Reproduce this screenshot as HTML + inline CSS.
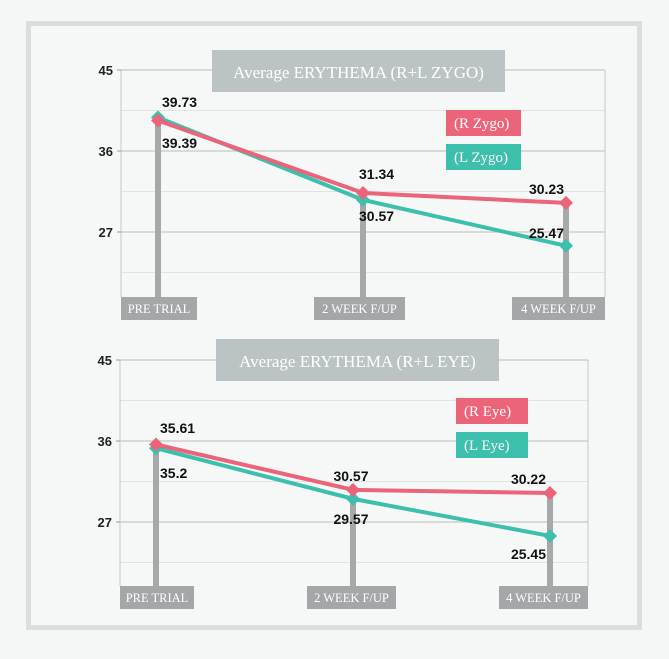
<!DOCTYPE html>
<html><head><meta charset="utf-8"><style>
html,body{margin:0;padding:0;background:#f5f7f6;}
body{width:669px;height:659px;position:relative;overflow:hidden;font-family:"Liberation Sans",sans-serif;}
#frame{position:absolute;left:26px;top:21px;width:606px;height:599px;border:5px solid #dcdede;background:#f6f8f7;}
svg{position:absolute;left:0;top:0;}
</style></head><body>
<div id="frame"></div>
<svg id="s" width="669" height="659"></svg>
<script>
const categories=["PRE TRIAL","2 WEEK F/UP","4 WEEK F/UP"];
const yTicks=[45,36,27];
const zygoR=[39.39,31.34,30.23];
const zygoL=[39.73,30.57,25.47];
const eyeR=[35.61,30.57,30.22];
const eyeL=[35.2,29.57,25.45];
const zygoRLabels=["39.39","31.34","30.23"];
const zygoLLabels=["39.73","30.57","25.47"];
const eyeRLabels=["35.61","30.57","30.22"];
const eyeLLabels=["35.2","29.57","25.45"];
const NS="http://www.w3.org/2000/svg";
const svg=document.getElementById('s');
function mk(t,a,p){const e=document.createElementNS(NS,t);for(const k in a)e.setAttribute(k,a[k]);(p||svg).appendChild(e);return e;}
const PINK="#ec6479",TEAL="#3dbfad";
function chart(cfg){
  const g=mk('g',{});
  
  
  const y=v=>cfg.top+(45-v)*(cfg.y36-cfg.top)/9;
  const x=i=>cfg.px[i];
  [45,40.5,36,31.5,27,22.5].forEach(v=>{
    const major=yTicks.includes(v);
    const l=mk('line',{x1:cfg.left,x2:cfg.right,y1:y(v),y2:y(v),stroke:major?'#c4c7c7':'#e2e4e4','stroke-width':major?1.2:1},g);
    
    
  });
  mk('line',{x1:cfg.left,x2:cfg.left,y1:cfg.top,y2:cfg.bottom,stroke:'#c4c7c7'},g);
  mk('line',{x1:cfg.right,x2:cfg.right,y1:cfg.top,y2:cfg.bottom,stroke:'#c4c7c7'},g);
  yTicks.forEach(v=>{
    mk('line',{x1:cfg.left-4,x2:cfg.left,y1:y(v),y2:y(v),stroke:'#999'},g);
    const t=mk('text',{x:cfg.left-8,y:y(v)+5,'text-anchor':'end','font-size':13,'font-weight':'bold',fill:'#222'},g);
    t.textContent=v;
    
    
  });
  categories.forEach((c,i)=>{
    const top=Math.min(y(cfg.r[i]),y(cfg.l[i]));
    const st=mk('rect',{x:x(i)-3,y:top,width:6,height:cfg.bottom-top,fill:'#a7a8aa'},g);
    
    
  });
  const tb=mk('rect',{x:cfg.tx,y:cfg.ty,width:cfg.tw,height:42,fill:'#bcc3c4'},g);
  
  
  const tt=mk('text',{x:cfg.tx+cfg.tw/2,y:cfg.ty+28,'text-anchor':'middle','font-size':17,fill:'#fff','font-family':'Liberation Serif, serif'},g);
  tt.textContent=cfg.title;
  
  
  [[cfg.l,TEAL,'series-left'],[cfg.r,PINK,'series-right']].forEach(([d,col,n])=>{
    const pl=mk('polyline',{points:d.map((v,i)=>x(i)+','+y(v)).join(' '),fill:'none',stroke:col,'stroke-width':4},g);
    
    
    d.forEach((v,i)=>{
      const p=mk('polygon',{points:`${x(i)},${y(v)-7} ${x(i)+7},${y(v)} ${x(i)},${y(v)+7} ${x(i)-7},${y(v)}`,fill:col},g);
      
      
    });
  });
  cfg.labels.forEach(([arr,i,dx,dy,anchor])=>{
    const t=mk('text',{x:x(i)+dx,y:dy,'text-anchor':anchor||'start','font-size':14,'font-weight':'bold',fill:'#111'},g);
    t.textContent=arr[i];
    
    
  });
  categories.forEach((c,i)=>{
    const b=cfg.xb[i];
    const r=mk('rect',{x:b[0],y:cfg.bottom,width:b[1]-b[0],height:23,fill:'#a5a6a8'},g);
    
    
    const t=mk('text',{x:(b[0]+b[1])/2,y:cfg.bottom+16,'text-anchor':'middle','font-size':12.5,fill:'#fff','font-family':'Liberation Serif, serif'},g);
    t.textContent=c;
    
    
  });
  [[cfg.legR,PINK,cfg.ly],[cfg.legL,TEAL,cfg.ly+34]].forEach(([txt,col,ly])=>{
    const r=mk('rect',{x:cfg.lx,y:ly,width:cfg.lw,height:26,fill:col},g);
    
    
    const t=mk('text',{x:cfg.lx+8,y:ly+18,'font-size':15,fill:'#fff','font-family':'Liberation Serif, serif'},g);
    t.textContent=txt;
    
    
  });
}
chart({name:'zygo-chart',top:70,y36:151,bottom:297,left:121,right:605,px:[158,363,566],
  r:zygoR,l:zygoL,title:'Average ERYTHEMA (R+L ZYGO)',tx:212,ty:50,tw:293,
  legR:'(R Zygo)',legL:'(L Zygo)',lx:446,lw:75,ly:110,
  xb:[[121,197],[314,405],[512,605]],
  labels:[[zygoLLabels,0,4,107],[zygoRLabels,0,4,148],[zygoRLabels,1,-4,179],[zygoLLabels,1,-4,221],[zygoRLabels,2,-2,194,'end'],[zygoLLabels,2,-2,238,'end']]});
chart({name:'eye-chart',top:360,y36:441,bottom:586,left:120,right:588,px:[156,353,550],
  r:eyeR,l:eyeL,title:'Average ERYTHEMA (R+L EYE)',tx:216,ty:339,tw:283,
  legR:'(R Eye)',legL:'(L Eye)',lx:456,lw:72,ly:398,
  xb:[[120,194],[307,396],[499,588]],
  labels:[[eyeRLabels,0,4,433],[eyeLLabels,0,4,478],[eyeRLabels,1,-2,481,'middle'],[eyeLLabels,1,-2,524,'middle'],[eyeRLabels,2,-4,484,'end'],[eyeLLabels,2,-4,559,'end']]});
</script>
</body></html>
